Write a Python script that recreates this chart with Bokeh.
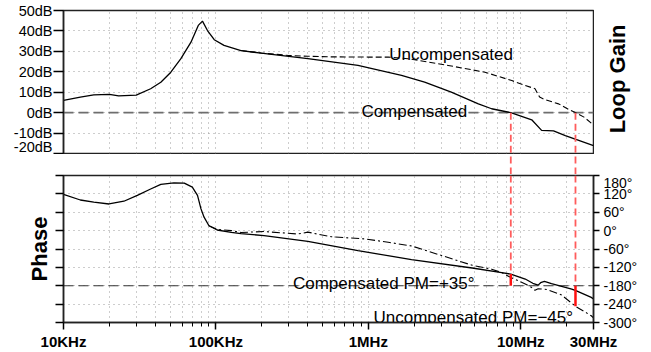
import numpy as np
from bokeh.plotting import figure
from bokeh.layouts import column, row
from bokeh.models import (FixedTicker, Range1d, LinearAxis, CustomJSTickFormatter)
from bokeh.core.properties import value
from bokeh.embed import file_html
from bokeh.resources import INLINE

FONT = "Liberation Sans"

# ---------------- data ----------------
gain_freq = [10e3, 12.9e3, 15.8e3, 20e3, 23e3, 30e3, 37.3e3, 43.5e3, 50.6e3, 58.9e3,
             68.6e3, 76.6e3, 81.6e3, 88e3, 97.5e3, 113e3, 146e3, 198e3, 401e3, 855e3,
             1.65e6, 2.34e6, 3.5e6, 5.27e6, 6.44e6, 8.6e6, 11.8e6, 13.7e6, 16.4e6,
             19.6e6, 23e6, 30e6]
gain_comp = [6.0, 7.6, 8.7, 8.9, 8.2, 8.6, 11.7, 14.9, 19.8, 26.4,
             34.5, 42.7, 44.8, 40.2, 35.7, 32.9, 30.4, 29.1, 26.4, 23.1,
             18.2, 14.9, 10.0, 4.3, 1.9, 0.0, -3.5, -8.7, -8.9,
             -11.2, -13.1, -16.1]

gain_unc_freq = [146e3, 198e3, 300e3, 401e3, 571e3, 1.0e6, 1.35e6, 1.82e6, 3.34e6,
                 5.82e6, 8.73e6, 10.7e6, 12.4e6, 13.3e6, 14.3e6, 17.7e6, 20.6e6,
                 23e6, 26e6, 30e6]
gain_unc = [30.4, 29.2, 28.0, 27.6, 27.3, 27.2, 27.2, 26.4, 23.1,
            19.8, 15.7, 13.3, 11.7, 7.6, 6.5, 4.3, 1.6,
            -0.1, -2.2, -6.0]

phase_freq = [10e3, 12.9e3, 15.8e3, 19.9e3, 24.9e3, 30.5e3, 37.3e3, 43.5e3, 53e3, 62e3,
              70e3, 75.7e3, 79.8e3, 83.6e3, 90e3, 102e3, 126e3, 146e3, 207e3, 401e3,
              855e3, 1.92e6, 4.8e6, 7.5e6, 8.6e6, 10.7e6, 12.0e6, 13.0e6, 13.5e6,
              14.3e6, 15.9e6, 21.6e6, 23e6, 29e6, 30e6]
phase_comp = [118, 100, 93, 87, 96, 115, 136, 151, 156, 155,
              142, 115, 71, 44, 16, 2, -5.5, -10, -16, -35,
              -65, -95, -122, -137, -142, -158, -172, -178, -170,
              -166, -173, -191, -196, -218, -223]

phase_unc_freq = [90e3, 102e3, 126e3, 146e3, 207e3, 345e3, 401e3, 571e3, 943e3, 1.35e6,
                  1.92e6, 4.8e6, 6.44e6, 7.5e6, 8.6e6, 10.7e6, 11.8e6, 12.4e6, 13e6,
                  14.8e6, 18.5e6, 23e6, 29e6, 30e6]
phase_unc = [16, 4, 0, -6, -3, -11, -5, -20, -27, -38,
             -50, -113, -126, -137, -153, -174, -186, -195, -190,
             -192, -210, -248, -278, -285]

db_ticks = [-20, -10, 0, 10, 20, 30, 40, 50]
phase_ticks = [-300, -240, -180, -120, -60, 0, 60, 120, 180]
freq_ticks = [1e4, 1e5, 1e6, 1e7, 3e7]
freq_labels = ["10KHz", "100KHz", "1MHz", "10MHz", "30MHz"]
minor_freqs = [m * d for d in (1e4, 1e5, 1e6) for m in range(2, 10)] + [2e7]
grid_freqs = sorted(freq_ticks + minor_freqs)

gain_ref = 0        # 0 dB line
phase_ref = -180    # -180 deg line

label_gain = [("Uncompensated", 1.37e6, 28.5), ("Compensated", 0.90e6, 0.8)]
label_phase = [("Compensated PM=+35°", 3.2e5, -173), ("Uncompensated PM=−45°", 1.08e6, -284)]
title_gain = "Loop Gain"
title_phase = "Phase"

# crossover frequencies (0 dB) and phases there, from the curves
def crossover(freqs, gains):
    lf = np.log10(freqs)
    g = np.array(gains)
    for i in range(len(g) - 1):
        if g[i] >= 0 > g[i + 1] or g[i] > 0 >= g[i + 1]:
            t = g[i] / (g[i] - g[i + 1])
            return 10 ** (lf[i] + t * (lf[i + 1] - lf[i]))
    return freqs[-1]

fc_comp = crossover(gain_freq, gain_comp)
fc_unc = crossover(gain_unc_freq, gain_unc)
ph_at_comp = float(np.interp(np.log10(fc_comp), np.log10(phase_freq), phase_comp))
ph_at_unc = float(np.interp(np.log10(fc_unc), np.log10(phase_unc_freq), phase_unc))

GRID_COLOR = "#9a9a9a"
GRID_DASH = "1 4"
RED_DASH = "#ff5c5c"
RED = "#ff1010"
X_RANGE = Range1d(1e4, 3e7)
DB_RANGE = Range1d(-20, 50)

# ---------------- top: loop gain ----------------
top = figure(width=594, height=154, x_axis_type="log", x_range=X_RANGE,
             y_range=DB_RANGE, output_backend="svg", toolbar_location=None,
             x_axis_location=None, y_axis_location="left",
             min_border_left=63, min_border_right=1, min_border_top=10, min_border_bottom=1)
top.outline_line_color = "#222222"
top.outline_line_width = 1.5

ya = top.yaxis[0]
ya.ticker = FixedTicker(ticks=db_ticks)
ya.formatter = CustomJSTickFormatter(code="return tick + 'dB'")
ya.major_tick_out = 10
ya.major_tick_in = 0
ya.minor_tick_line_color = None
ya.major_label_standoff = 1
ya.major_label_text_font = FONT
ya.major_label_text_font_size = "14.5px"
ya.major_label_text_color = "black"
ya.axis_line_color = "#222222"
ya.axis_line_width = 1.5
ya.major_tick_line_width = 1.5

top.xgrid.ticker = FixedTicker(ticks=grid_freqs)
top.ygrid.ticker = FixedTicker(ticks=db_ticks)
for g in (top.xgrid, top.ygrid):
    g.grid_line_color = GRID_COLOR
    g.grid_line_dash = GRID_DASH
    g.grid_line_width = 1

top.line(x=[1e4, 3e7], y=[gain_ref, gain_ref], line_color="#6e6e6e", line_width=1.6,
         line_dash="10 5")
top.line(x=gain_unc_freq, y=gain_unc, line_color="black", line_width=1.1, line_dash="6 3")
top.line(x=gain_freq, y=gain_comp, line_color="black", line_width=1.3)

top.segment(x0=[fc_comp, fc_unc], y0=[gain_ref, gain_ref], x1=[fc_comp, fc_unc],
            y1=[-20, -20], line_color=RED_DASH, line_width=1.8, line_dash="7 4")

top.text(x=[l[1] for l in label_gain], y=[l[2] for l in label_gain],
         text=[l[0] for l in label_gain], text_font=value(FONT), text_font_size="17px",
         text_baseline="alphabetic", text_align="left", text_color="black")

# side strip with the rotated "Loop Gain" title
side = figure(width=57, height=154, x_range=Range1d(0, 1), y_range=DB_RANGE,
              output_backend="svg", toolbar_location=None,
              x_axis_location=None, y_axis_location=None,
              min_border_left=0, min_border_right=0, min_border_top=10, min_border_bottom=1)
side.outline_line_color = None
side.grid.visible = False
side.text(x=[0.4], y=[16.5], text=[title_gain], angle=np.pi / 2,
          text_font=value(FONT), text_font_size="22px", text_font_style="bold",
          text_align="center", text_baseline="middle", text_color="black")

# ---------------- gap strip: red dashes continue between the panels ----------------
gap = figure(width=651, height=20, x_axis_type="log", x_range=X_RANGE,
             y_range=Range1d(0, 1), output_backend="svg", toolbar_location=None,
             x_axis_location=None, y_axis_location=None,
             min_border_left=63, min_border_right=58, min_border_top=0, min_border_bottom=0)
gap.outline_line_color = None
gap.grid.visible = False
gap.segment(x0=[fc_comp, fc_unc], y0=[0, 0], x1=[fc_comp, fc_unc], y1=[1, 1],
            line_color=RED_DASH, line_width=1.8, line_dash="7 4")

# ---------------- bottom: phase ----------------
bot = figure(width=651, height=178, x_axis_type="log", x_range=X_RANGE,
             y_range=Range1d(-300, 180), output_backend="svg", toolbar_location=None,
             x_axis_location="below", y_axis_location="left",
             min_border_left=63, min_border_right=58, min_border_top=1, min_border_bottom=30)
bot.outline_line_color = "#222222"
bot.outline_line_width = 1.5

xa = bot.xaxis[0]
xa.ticker = FixedTicker(ticks=freq_ticks, minor_ticks=minor_freqs)
xa.major_label_overrides = dict(zip(freq_ticks, freq_labels))
xa.major_tick_out = 7
xa.major_tick_in = 0
xa.minor_tick_out = 4
xa.minor_tick_in = 0
xa.major_label_standoff = 3
xa.major_label_text_font = FONT
xa.major_label_text_font_size = "15px"
xa.major_label_text_font_style = "bold"
xa.major_label_text_color = "black"
xa.axis_line_color = "#222222"
xa.axis_line_width = 1.5
xa.major_tick_line_width = 1.5

la = bot.yaxis[0]
la.ticker = FixedTicker(ticks=phase_ticks)
la.formatter = CustomJSTickFormatter(code="return ''")
la.major_tick_out = 8
la.major_tick_in = 0
la.minor_tick_line_color = None
la.axis_label = title_phase
la.axis_label_text_font = FONT
la.axis_label_text_font_size = "22px"
la.axis_label_text_font_style = "bold"
la.axis_label_text_color = "black"
la.axis_label_standoff = 4
la.axis_line_color = "#222222"
la.axis_line_width = 1.5
la.major_tick_line_width = 1.5

pa = LinearAxis(ticker=FixedTicker(ticks=phase_ticks),
                formatter=CustomJSTickFormatter(code="return tick + '°'"),
                major_tick_out=6, major_tick_in=0, minor_tick_line_color=None,
                major_label_standoff=4, major_label_text_font=FONT,
                major_label_text_font_size="14px", major_label_text_color="black",
                axis_line_color="#222222", axis_line_width=1.5, major_tick_line_width=1.5)
bot.add_layout(pa, "right")

bot.xgrid.ticker = FixedTicker(ticks=grid_freqs)
bot.ygrid.ticker = FixedTicker(ticks=phase_ticks)
for g in (bot.xgrid, bot.ygrid):
    g.grid_line_color = GRID_COLOR
    g.grid_line_dash = GRID_DASH
    g.grid_line_width = 1

bot.line(x=[1e4, 3e7], y=[phase_ref, phase_ref], line_color="#333333", line_width=1.2,
         line_dash="10 5")
bot.line(x=phase_unc_freq, y=phase_unc, line_color="black", line_width=1.1,
         line_dash="8 3 2 3")
bot.line(x=phase_freq, y=phase_comp, line_color="black", line_width=1.3)

bot.segment(x0=[fc_comp, fc_unc], y0=[180, 180], x1=[fc_comp, fc_unc],
            y1=[max(ph_at_comp, phase_ref), max(ph_at_unc, phase_ref)],
            line_color=RED_DASH, line_width=1.8, line_dash="7 4")
bot.segment(x0=[fc_comp, fc_unc], y0=[phase_ref, phase_ref], x1=[fc_comp, fc_unc],
            y1=[ph_at_comp, ph_at_unc], line_color=RED, line_width=2.5)

bot.text(x=[l[1] for l in label_phase], y=[l[2] for l in label_phase],
         text=[l[0] for l in label_phase], text_font=value(FONT), text_font_size="17px",
         text_baseline="alphabetic", text_align="left", text_color="black")

layout = column(row(top, side, spacing=0), gap, bot, spacing=0)
open("out.html", "w", encoding="utf-8").write(file_html(layout, INLINE))
